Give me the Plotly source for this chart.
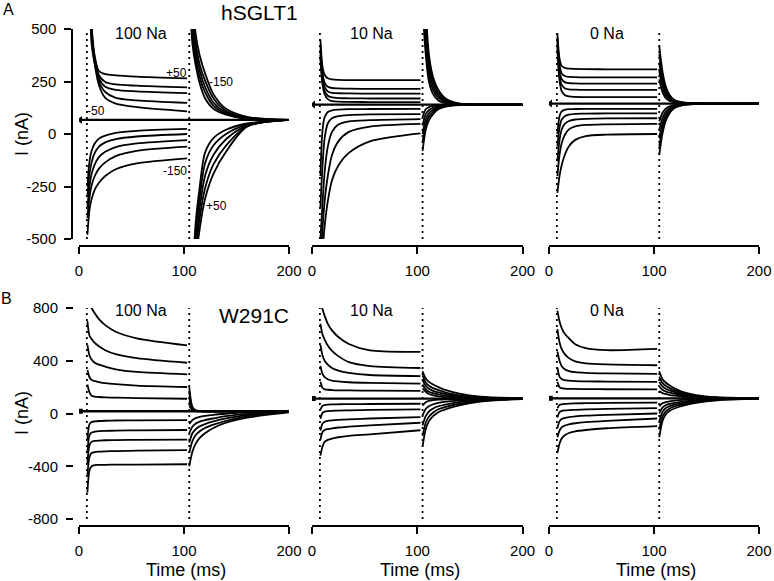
import plotly.graph_objects as go

FONT = "Liberation Sans, Arial, sans-serif"

# sample times (ms)
T_ON = [8, 10, 12, 15, 19, 25, 35, 55, 103]
T_OFF = [105, 108, 111, 115, 120, 128, 140, 160, 200]
STEP_MV = ["+50", "+30", "+10", "-10", "-30", "-70", "-90", "-110", "-130", "-150"]
SPIKE_T = [7.5, 105]
X_TICKS = [0, 100, 200]
Y_TICKS_A = [-500, -250, 0, 250, 500]
Y_TEXT_A = ["-500", "-250", "0", "250", "500"]
Y_TICKS_B = [-800, -400, 0, 400, 800]
Y_TEXT_B = ["-800", "-400", "0", "400", "800"]

# ---------------- hSGLT1, 100 Na ----------------
HOLD_A1 = 67
ON_A1 = [
    [1500, 800, 520, 370, 300, 285, 279, 273, 265],
    [1500, 800, 500, 360, 280, 248, 236, 230, 222],
    [1500, 800, 480, 350, 265, 225, 210, 203, 195],
    [1500, 800, 455, 340, 250, 200, 172, 160, 148],
    [1500, 800, 430, 330, 232, 172, 145, 128, 108],
    [-250, -130, -80, -45, -22, -8, 5, 15, 24],
    [-300, -190, -135, -90, -60, -40, -24, -12, 0],
    [-350, -250, -190, -145, -110, -85, -62, -45, -29],
    [-400, -300, -245, -200, -165, -135, -105, -80, -60],
    [-480, -360, -310, -265, -232, -200, -168, -140, -116],
]
OFF_A1 = [
    [-1300, -900, -620, -450, -310, -190, -85, 35, 67],
    [-1200, -850, -580, -400, -260, -145, -55, 37, 67],
    [-1100, -800, -530, -350, -200, -100, -25, 40, 67],
    [-1050, -750, -480, -300, -140, -55, 0, 45, 67],
    [-1000, -700, -430, -250, -90, -20, 20, 50, 67],
    [700, 430, 330, 240, 170, 120, 92, 72, 67],
    [800, 480, 360, 270, 200, 135, 96, 74, 67],
    [900, 540, 400, 300, 225, 150, 102, 76, 67],
    [1000, 600, 440, 330, 255, 170, 110, 79, 67],
    [1200, 700, 480, 373, 290, 190, 120, 82, 67],
]

# ---------------- hSGLT1, 10 Na ----------------
HOLD_A2 = 140
ON_A2 = [
    [450, 320, 282, 265, 260, 258, 257, 257, 257],
    [420, 290, 245, 225, 219, 217, 216, 215, 215],
    [400, 270, 225, 203, 196, 194, 193, 192, 192],
    [380, 250, 205, 182, 174, 171, 170, 169, 169],
    [360, 235, 190, 166, 157, 154, 153, 152, 152],
    [-200, 20, 80, 105, 113, 116, 118, 119, 120],
    [-350, -150, -20, 50, 75, 85, 90, 93, 95],
    [-500, -330, -180, -60, 10, 45, 60, 66, 71],
    [-600, -450, -320, -200, -100, -35, 10, 35, 48],
    [-700, -560, -440, -320, -220, -150, -90, -35, 3],
]
OFF_A2 = [
    [-80, 20, 65, 95, 118, 132, 138, 140, 140],
    [-40, 45, 82, 105, 123, 134, 139, 140, 140],
    [0, 70, 98, 115, 128, 136, 139, 140, 140],
    [40, 95, 113, 125, 133, 138, 140, 140, 140],
    [80, 118, 128, 134, 137, 139, 140, 140, 140],
    [600, 380, 250, 190, 160, 146, 141, 140, 140],
    [680, 430, 280, 210, 172, 150, 142, 140, 140],
    [750, 480, 310, 230, 183, 154, 143, 140, 140],
    [820, 540, 345, 250, 195, 158, 144, 140, 140],
    [900, 600, 380, 270, 210, 165, 145, 141, 140],
]

# ---------------- hSGLT1, 0 Na ----------------
HOLD_A3 = 145
ON_A3 = [
    [480, 360, 325, 315, 311, 310, 309, 308, 308],
    [460, 330, 290, 276, 272, 271, 270, 270, 270],
    [440, 305, 262, 247, 242, 241, 240, 240, 240],
    [420, 280, 235, 218, 212, 211, 210, 210, 210],
    [400, 255, 205, 186, 179, 177, 176, 176, 176],
    [0, 85, 108, 115, 118, 119, 120, 120, 120],
    [-60, 30, 68, 85, 92, 96, 97, 98, 98],
    [-130, -30, 20, 48, 62, 69, 72, 74, 75],
    [-200, -100, -45, -5, 22, 36, 43, 46, 48],
    [-280, -200, -150, -100, -58, -28, -10, -3, 0],
]
OFF_A3 = [
    [-100, 0, 60, 100, 125, 138, 143, 145, 145],
    [-60, 25, 75, 108, 129, 140, 144, 145, 145],
    [-20, 50, 90, 116, 133, 141, 144, 145, 145],
    [20, 75, 105, 124, 136, 142, 145, 145, 145],
    [60, 100, 120, 132, 139, 143, 145, 145, 145],
    [260, 200, 172, 157, 150, 146, 145, 145, 145],
    [300, 225, 185, 163, 152, 147, 145, 145, 145],
    [340, 250, 200, 170, 154, 148, 145, 145, 145],
    [380, 275, 215, 178, 157, 149, 146, 145, 145],
    [420, 300, 230, 185, 160, 150, 146, 145, 145],
]

# ---------------- W291C, 100 Na ----------------
HOLD_B1 = 17
ON_B1 = [
    [900, 830, 800, 760, 715, 670, 620, 570, 517],
    [700, 590, 565, 535, 510, 480, 450, 420, 385],
    [520, 440, 410, 385, 370, 355, 335, 315, 297],
    [330, 275, 255, 245, 238, 230, 222, 212, 201],
    [220, 160, 135, 128, 125, 122, 120, 117, 112],
    [-200, -80, -65, -60, -57, -55, -53, -52, -50],
    [-300, -165, -145, -138, -134, -132, -130, -128, -125],
    [-380, -240, -215, -208, -205, -203, -202, -200, -198],
    [-470, -330, -300, -292, -289, -287, -285, -282, -278],
    [-600, -430, -400, -392, -390, -389, -388, -387, -385],
]
OFF_B1 = [
    [-400, -290, -230, -185, -150, -110, -70, -32, 8],
    [-300, -210, -165, -135, -110, -85, -55, -22, 12],
    [-220, -150, -120, -97, -80, -60, -37, -12, 14],
    [-150, -100, -78, -62, -50, -37, -20, -3, 15],
    [-80, -50, -35, -25, -18, -10, -2, 8, 16],
    [60, 25, 19, 17, 17, 17, 17, 17, 17],
    [90, 30, 20, 18, 17, 17, 17, 17, 17],
    [120, 35, 21, 18, 17, 17, 17, 17, 17],
    [160, 40, 22, 18, 17, 17, 17, 17, 17],
    [200, 50, 24, 19, 17, 17, 17, 17, 17],
]

# ---------------- W291C, 10 Na ----------------
HOLD_B2 = 113
ON_B2 = [
    [850, 790, 740, 680, 630, 580, 527, 478, 468],
    [680, 600, 560, 515, 475, 435, 390, 360, 345],
    [520, 440, 400, 370, 345, 325, 308, 292, 284],
    [360, 300, 275, 260, 250, 243, 237, 232, 227],
    [240, 195, 183, 180, 178, 176, 175, 173, 171],
    [30, 58, 64, 67, 69, 70, 71, 72, 74],
    [-40, 5, 14, 18, 20, 22, 24, 27, 32],
    [-130, -75, -62, -56, -52, -48, -44, -38, -27],
    [-200, -140, -125, -118, -112, -106, -100, -90, -70],
    [-320, -250, -215, -200, -190, -180, -170, -158, -127],
]
OFF_B2 = [
    [-250, -120, -60, -20, 10, 35, 62, 90, 110],
    [-170, -70, -25, 8, 32, 52, 74, 96, 111],
    [-90, -20, 15, 38, 55, 70, 86, 102, 112],
    [-15, 35, 55, 70, 80, 90, 98, 107, 113],
    [60, 85, 95, 101, 105, 108, 110, 112, 113],
    [190, 165, 148, 138, 130, 123, 118, 115, 113],
    [220, 185, 165, 155, 145, 133, 124, 117, 113],
    [255, 210, 188, 172, 160, 145, 130, 120, 113],
    [290, 235, 210, 192, 177, 157, 138, 123, 114],
    [320, 265, 240, 220, 200, 175, 150, 128, 115],
]

# ---------------- W291C, 0 Na ----------------
HOLD_B3 = 115
ON_B3 = [
    [780, 700, 650, 605, 570, 525, 495, 480, 490],
    [640, 540, 490, 450, 420, 395, 380, 372, 366],
    [470, 400, 360, 335, 322, 313, 308, 304, 300],
    [350, 280, 262, 253, 249, 246, 244, 242, 240],
    [240, 200, 192, 189, 187, 186, 185, 184, 183],
    [40, 65, 70, 73, 75, 77, 78, 80, 82],
    [-30, 10, 18, 23, 26, 28, 31, 35, 40],
    [-110, -60, -42, -34, -28, -22, -16, -10, 0],
    [-180, -130, -105, -92, -82, -74, -66, -56, -38],
    [-300, -230, -190, -165, -148, -135, -125, -112, -95],
]
OFF_B3 = [
    [-180, -60, -10, 20, 40, 60, 80, 100, 113],
    [-120, -25, 15, 38, 55, 71, 88, 104, 114],
    [-60, 10, 40, 56, 68, 81, 95, 107, 114],
    [0, 45, 63, 73, 81, 90, 101, 110, 115],
    [55, 78, 86, 92, 97, 103, 108, 113, 115],
    [170, 155, 148, 140, 135, 127, 120, 116, 115],
    [205, 180, 168, 158, 150, 135, 124, 118, 115],
    [240, 205, 188, 175, 162, 143, 129, 119, 115],
    [280, 232, 210, 192, 175, 152, 134, 121, 115],
    [320, 262, 235, 212, 190, 162, 140, 124, 116],
]

PANELS = [
    ("100 Na", HOLD_A1, ON_A1, OFF_A1),
    ("10 Na", HOLD_A2, ON_A2, OFF_A2),
    ("0 Na", HOLD_A3, ON_A3, OFF_A3),
    ("100 Na", HOLD_B1, ON_B1, OFF_B1),
    ("10 Na", HOLD_B2, ON_B2, OFF_B2),
    ("0 Na", HOLD_B3, ON_B3, OFF_B3),
]

W, H = 774, 581
XDOM = [[79 / W, 289 / W], [312 / W, 522.6 / W], [549 / W, 759 / W]]
YDOM = [[1 - 239 / H, 1 - 29 / H], [1 - 519 / H, 1 - 308 / H]]
YRANGE = [[-500, 500], [-800, 800]]
XPOS = [1 - 246 / H, 1 - 526 / H]

fig = go.Figure()
for i, (label, hold, on, off) in enumerate(PANELS):
    r, c = divmod(i, 3)
    xa = "x" if i == 0 else f"x{i+1}"
    ya = "y" if i == 0 else f"y{i+1}"
    common = dict(xaxis=xa, yaxis=ya, showlegend=False, hoverinfo="skip")
    ymin, ymax = YRANGE[r]
    for ts in SPIKE_T:
        fig.add_trace(go.Scatter(x=[ts, ts], y=[ymin, ymax], mode="lines",
                                 line=dict(color="black", width=1.8, dash="2px,4px"), **common))
    fig.add_trace(go.Scatter(x=[0, 200], y=[hold, hold], mode="lines",
                             line=dict(color="black", width=2.3), **common))
    fig.add_trace(go.Scatter(x=[1.2], y=[hold], mode="markers",
                             marker=dict(symbol="triangle-left" if r == 0 else "square",
                                         size=7 if r == 0 else 5, color="black"), **common))
    for k in range(len(STEP_MV)):
        fig.add_trace(go.Scatter(x=T_ON, y=on[k], mode="lines",
                                 line=dict(color="black", width=1.8, shape="spline", smoothing=0.8),
                                 **common))
        fig.add_trace(go.Scatter(x=T_OFF, y=off[k], mode="lines",
                                 line=dict(color="black", width=1.8, shape="spline", smoothing=0.8),
                                 **common))

layout = dict(
    width=W, height=H, margin=dict(l=0, r=0, t=0, b=0, autoexpand=False),
    paper_bgcolor="white", plot_bgcolor="white",
    font=dict(family=FONT, size=15, color="black"),
)
for i in range(6):
    r, c = divmod(i, 3)
    xk = "xaxis" if i == 0 else f"xaxis{i+1}"
    yk = "yaxis" if i == 0 else f"yaxis{i+1}"
    layout[xk] = dict(domain=XDOM[c], range=[0, 200], anchor="free", position=XPOS[r],
                      showline=True, linewidth=1.5, linecolor="black", ticks="outside",
                      ticklen=7, tickwidth=1.5, tickcolor="black", tickvals=X_TICKS,
                      showgrid=False, zeroline=False, ticklabelstandoff=4, automargin=False,
                      tickfont=dict(family=FONT, size=15, color="black"))
    layout[yk] = dict(domain=YDOM[r], range=YRANGE[r], anchor="free",
                      position=(72 / W if r == 0 else 73 / W),
                      visible=(c == 0), showline=(r == 0), linewidth=1.5, linecolor="black",
                      ticks="outside", ticklen=7, tickwidth=1.5, tickcolor="black",
                      tickvals=Y_TICKS_A if r == 0 else Y_TICKS_B,
                      ticktext=Y_TEXT_A if r == 0 else Y_TEXT_B,
                      showgrid=False, zeroline=False, ticklabelstandoff=5, automargin=False,
                      tickfont=dict(family=FONT, size=15, color="black"))

ann = []
def pa(text, x, y, size, angle=0):
    ann.append(dict(text=text, x=x / W, y=1 - y / H, xref="paper", yref="paper",
                    xanchor="center", yanchor="middle", showarrow=False, textangle=angle,
                    font=dict(family=FONT, size=size, color="black")))

pa("A", 8, 10, 16)
pa("B", 7, 298, 16)
pa("hSGLT1", 259, 13, 21)
pa("W291C", 254, 315, 21)
for (lbl, x, y) in [("100 Na", 141, 33), ("10 Na", 371, 33), ("0 Na", 607, 33),
                    ("100 Na", 141, 310), ("10 Na", 371, 310), ("0 Na", 607, 310)]:
    pa(lbl, x, y, 16)
pa("I (nA)", 22, 134, 18, -90)
pa("I (nA)", 22, 413, 18, -90)
for x in [186, 420, 656]:
    pa("Time (ms)", x, 570, 18)

# step-voltage labels inside the first panel (data coordinates)
for (txt, t, i_na) in [("+50", 92.4, 290), ("-150", 135, 248), ("-50", 16.2, 110),
                       ("-150", 91.4, -176), ("+50", 130.5, -343)]:
    ann.append(dict(text=txt, x=t, y=i_na, xref="x", yref="y", showarrow=False,
                    xanchor="center", yanchor="middle",
                    font=dict(family=FONT, size=12, color="black")))
layout["annotations"] = ann
fig.update_layout(**layout)
fig.write_html("out.html", config={"displayModeBar": False},
               post_script="document.body.style.margin='0';document.body.style.padding='0';"
                           "document.body.style.overflow='hidden';")
